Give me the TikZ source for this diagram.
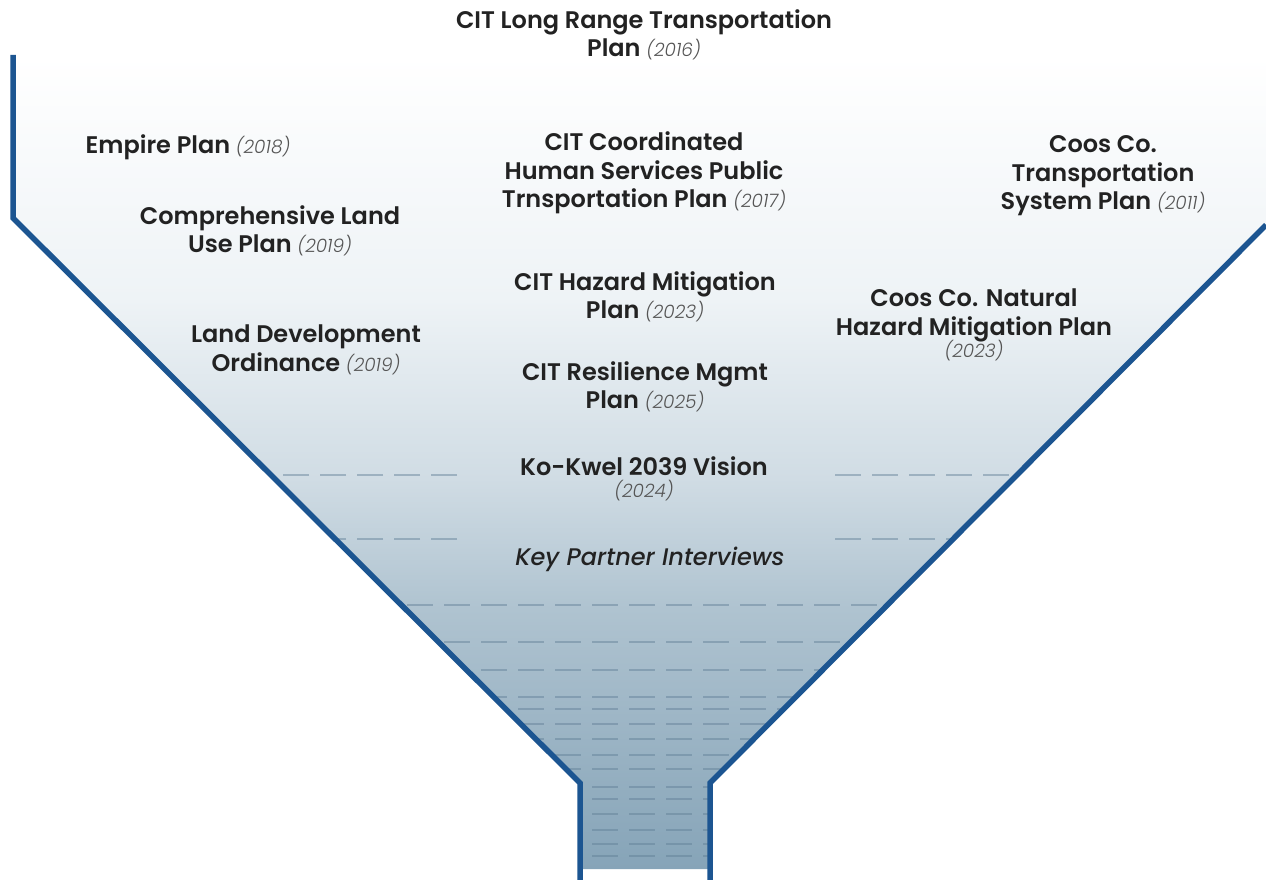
\documentclass[tikz,border=0pt]{standalone}
\usepackage{fontspec}
\setmainfont{Poppins}
\newfontfamily\planfont{Poppins SemiBold}
\newfontfamily\yearfont{Poppins Light Italic}
\newfontfamily\keyfont{Poppins Medium Italic}
\definecolor{wallblue}{HTML}{1C5591}
\definecolor{dashgray}{HTML}{5F7D95}
\definecolor{textgray}{HTML}{222222}
\definecolor{yeargray}{HTML}{555555}
\definecolor{fbot}{HTML}{86A4B8}
\definecolor{fmid}{HTML}{AFC3D0}
\definecolor{fup}{HTML}{D0DCE4}
\definecolor{ftop}{HTML}{EEF3F6}
\pgfdeclareverticalshading{funnelshade}{100bp}{color(0bp)=(fbot); color(25bp)=(fbot); color(41bp)=(fmid); color(49bp)=(fup); color(60bp)=(ftop); color(75bp)=(white); color(100bp)=(white)}
\newcommand{\yr}[1]{{\yearfont\fontsize{18.5}{24}\selectfont\color{yeargray}(#1)}}
\tikzset{
    plan/.style={align=center, inner sep=0pt, text=textgray,
        font=\planfont\fontsize{24}{28.5}\selectfont},
    wall/.style={line width=5.5pt, draw=wallblue, line join=miter},
    dashrow/.style={line width=2pt, draw=dashgray, opacity=0.45,
        dash pattern=on 26pt off 11pt}
}
\begin{document}
\begin{tikzpicture}[x=1pt, y=-1pt]
    \useasboundingbox (0,0) rectangle (1266,880);
    \shade[shading=funnelshade] (13,55) -- (13,218) -- (580,783) -- (580,869) -- (710,869)
        -- (710,783) -- (1266,225) -- (1266,55) -- cycle;
    \begin{scope}
        \clip (13,55) -- (13,218) -- (580,783) -- (580,869) -- (710,869)
            -- (710,783) -- (1266,225) -- (1266,55) -- cycle;
        \foreach \y in {475, 539}{
            \draw[dashrow] (457,\y) -- (0,\y);
            \draw[dashrow] (835,\y) -- (1266,\y);
        }
        \foreach \y in {605, 642, 670, 697, 709, 724, 739, 755, 769, 787, 799, 814, 830, 844, 856}
            \draw[dashrow] (0,\y) -- (1266,\y);
    \end{scope}
    \draw[wall] (13,55) -- (13,218) -- (580,783) -- (580,880);
    \draw[wall] (1266,225) -- (710,783) -- (710,880);

    \node[plan] (lrtp) at (644,35) {CIT Long Range Transportation\\Plan \yr{2016}};
    \node[plan] (empire) at (188,147) {Empire Plan \yr{2018}};
    \node[plan] (chspt) at (644,173) {CIT Coordinated\\Human Services Public\\Trnsportation Plan \yr{2017}};
    \node[plan] (coostsp) at (1103,176) {Coos Co.\\Transportation\\System Plan \yr{2011}};
    \node[plan] (clup) at (270,231) {Comprehensive Land\\Use Plan \yr{2019}};
    \node[plan] (cithmp) at (645,297) {CIT Hazard Mitigation\\Plan \yr{2023}};
    \node[plan] (coosnhmp) at (974,325) {Coos Co. Natural\\Hazard Mitigation Plan\\[-6pt]\yr{2023}};
    \node[plan] (ldo) at (306,350) {Land Development\\Ordinance \yr{2019}};
    \node[plan] (citrmp) at (645,387) {CIT Resilience Mgmt\\Plan \yr{2025}};
    \node[plan] (kokwel) at (644,479) {Ko-Kwel 2039 Vision\\[-6pt]\yr{2024}};
    \node[plan, font=\keyfont\fontsize{24}{28.5}\selectfont] (keypart) at (650,559) {Key Partner Interviews};
\end{tikzpicture}
\end{document}
